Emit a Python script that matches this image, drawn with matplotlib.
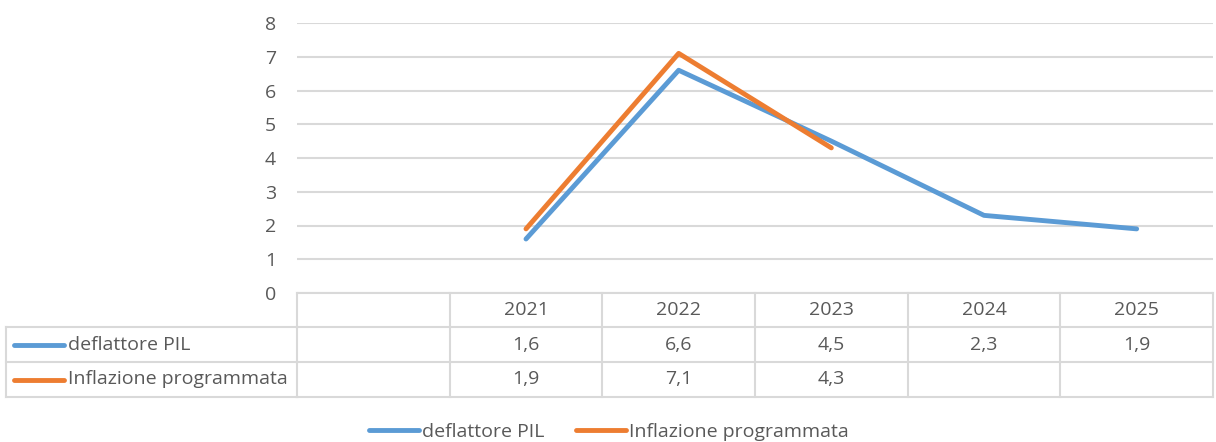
import numpy as np
import matplotlib.pyplot as plt
from matplotlib.lines import Line2D
from matplotlib.transforms import blended_transform_factory

# data (first category is blank in the original)
categories = ["", "2021", "2022", "2023", "2024", "2025"]
deflattore = [np.nan, 1.6, 6.6, 4.5, 2.3, 1.9]
inflazione = [np.nan, 1.9, 7.1, 4.3, np.nan, np.nan]
series_names = ["deflattore PIL", "Inflazione programmata"]
series_colors = ["#5b9bd5", "#ed7d31"]

W, H = 1216, 442
TXT = "#595959"
GRID = "#d9d9d9"
FS = 14
plt.rcParams["font.family"] = ["Open Sans", "DejaVu Sans"]


def fx(x):
    return x / W


def fy(y):
    return 1 - y / H


def fmt(v):
    return "" if np.isnan(v) else f"{v:.1f}".replace(".", ",")


fig = plt.figure(figsize=(W / 100, H / 100), dpi=100)
ax = fig.add_axes([fx(297), fy(293), fx(1213) - fx(297), fy(23) - fy(293)])

x = np.arange(len(categories))
lines = []
for vals, name, col in zip([deflattore, inflazione], series_names, series_colors):
    (ln,) = ax.plot(x, vals, color=col, lw=3.5, solid_capstyle="round", label=name)
    lines.append(ln)

ax.set_xlim(-0.5, len(categories) - 0.5)
ax.set_ylim(0, 8)
ax.set_yticks(range(0, 9))
ax.set_xticks([])
ax.tick_params(axis="y", length=0, pad=15, labelsize=FS, labelcolor=TXT)
ax.yaxis.grid(True, color=GRID, lw=1.5)
ax.set_axisbelow(True)
for s in ax.spines.values():
    s.set_visible(False)

# data table under the plot
tr = blended_transform_factory(ax.transData, fig.transFigure)
rows_y = [293, 327, 362, 397]
edges = np.arange(len(categories) + 1) - 0.5
for yy in rows_y:
    if yy != rows_y[0]:
        fig.add_artist(Line2D([fx(6), fx(297)], [fy(yy)] * 2, color=GRID, lw=1.5))
    fig.add_artist(Line2D([edges[0], edges[-1]], [fy(yy)] * 2, color=GRID, lw=1.5, transform=tr))
for e in edges:
    fig.add_artist(Line2D([e, e], [fy(293), fy(397)], color=GRID, lw=1.5, transform=tr))
fig.add_artist(Line2D([fx(6), fx(6)], [fy(327), fy(397)], color=GRID, lw=1.5))

for i, c in enumerate(categories):
    fig.text(i, fy(310), c, transform=tr, ha="center", va="center", fontsize=FS, color=TXT)
for r, vals in enumerate([deflattore, inflazione]):
    yc = fy((rows_y[r + 1] + rows_y[r + 2]) / 2)
    for i, v in enumerate(vals):
        fig.text(i, yc, fmt(v), transform=tr, ha="center", va="center", fontsize=FS, color=TXT)
    fig.add_artist(Line2D([fx(14), fx(64)], [yc, yc], color=series_colors[r], lw=3.5,
                          solid_capstyle="round"))
    fig.text(fx(68), yc, series_names[r], ha="left", va="center", fontsize=FS, color=TXT)

fig.legend(handles=lines, loc="center", bbox_to_anchor=(fx(609), fy(432)), ncol=2,
           frameon=False, fontsize=FS, labelcolor=TXT, handlelength=2.6,
           handletextpad=0.15, columnspacing=1.6)

fig.savefig("out.png", dpi=100)
